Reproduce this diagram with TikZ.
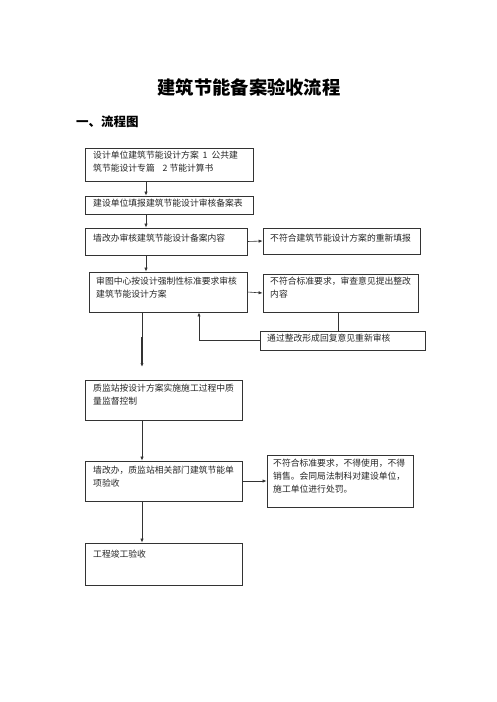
\documentclass[tikz,border=0pt]{standalone}
\usepackage{fontspec}
\setmainfont{Noto Sans CJK SC}
\usetikzlibrary{arrows.meta}
\tikzset{
  box/.style={draw=black!80, line width=0.7pt, inner sep=0pt},
  txt/.style={anchor=north west, align=left, inner sep=0pt, font=\fontsize{8.8}{13}\selectfont, text=black!85},
  conn/.style={draw=black!80, line width=0.6pt},
  arr/.style={conn, -{Latex[length=4pt,width=3.2pt]}},
}
\begin{document}
\begin{tikzpicture}[x=1pt,y=-1pt]
\useasboundingbox (0,0) rectangle (496,702);
\fill[white] (0,0) rectangle (496,702);
% titles
\node[font=\bfseries\fontsize{18.3}{20}\selectfont] (title) at (249,87) {建筑节能备案验收流程};
\node[anchor=west, font=\bfseries\fontsize{12.5}{14}\selectfont, inner sep=0pt] (sec) at (76,122) {一、流程图};
% boxes
\node[box, minimum width=168pt, minimum height=33pt] (b1) at (169,164.5) {};
\node[txt] (t1) at (93,151) {设计单位建筑节能设计方案\ \ 1\ \ 公共建\\筑节能设计专篇\ \ \ \ 2 节能计算书};

\node[box, minimum width=168pt, minimum height=18pt] (b2) at (169,205) {};
\node[txt] (t2) at (93,199) {建设单位填报建筑节能设计审核备案表};

\node[box, minimum width=162pt, minimum height=27pt] (b3) at (166,241.5) {};
\node[txt] (t3) at (93,234) {墙改办审核建筑节能设计备案内容};

\node[box, minimum width=157pt, minimum height=26pt] (bA) at (341.5,241) {};
\node[txt] (tA) at (270,234) {不符合建筑节能设计方案的重新填报};

\node[box, minimum width=158pt, minimum height=40pt] (b4) at (168,292) {};
\node[txt] (t4) at (96,277) {审图中心按设计强制性标准要求审核\\建筑节能设计方案};

\node[box, minimum width=155pt, minimum height=38pt] (bB) at (340.5,293) {};
\node[txt] (tB) at (270,277) {不符合标准要求，审查意见提出整改\\内容};

\node[box, minimum width=165pt, minimum height=19pt] (bC) at (342.5,340.5) {};
\node[txt] (tC) at (267,334) {通过整改形成回复意见重新审核};

\node[box, minimum width=157pt, minimum height=40pt] (b5) at (163.5,400) {};
\node[txt] (t5) at (93,384) {质监站按设计方案实施施工过程中质\\量监督控制};

\node[box, minimum width=157pt, minimum height=40pt] (b6) at (163.5,481) {};
\node[txt] (t6) at (93,466) {墙改办，质监站相关部门建筑节能单\\项验收};

\node[box, minimum width=146pt, minimum height=52pt] (bD) at (340,481) {};
\node[txt] (tD) at (273,459) {不符合标准要求，不得使用，不得\\销售。会同局法制科对建设单位，\\施工单位进行处罚。};

\node[box, minimum width=157pt, minimum height=42pt] (b7) at (163.5,564) {};
\node[txt] (t7) at (93,550) {工程竣工验收};

% connectors
\draw[arr] (b1.south -| 146,0) -- (b2.north -| 146,0);
\draw[arr] (b2.south -| 146,0) -- (b3.north -| 146,0);
\draw[arr] (b3.east) -- (bA.west);
\draw[arr] (b3.south -| 146,0) -- (b4.north -| 146,0);
\draw[arr] (b4.east) -- (bB.west);
\draw[conn] (bB.south -| 338,0) -- (bC.north -| 338,0);
\draw[arr] (bC.west) -| (b4.south -| 199,0);
\coordinate (mid) at (142,337);
\coordinate (free) at (142,367);
\draw[conn] (b4.south -| 142,0) -- (mid);
\draw[arr, line width=1.1pt] (mid) -- (free);
\draw[arr] (b5.south -| 142,0) -- (b6.north -| 142,0);
\draw[arr] (b6.east) -- (bD.west);
\draw[arr] (b6.south -| 142,0) -- (b7.north -| 142,0);
\end{tikzpicture}
\end{document}
